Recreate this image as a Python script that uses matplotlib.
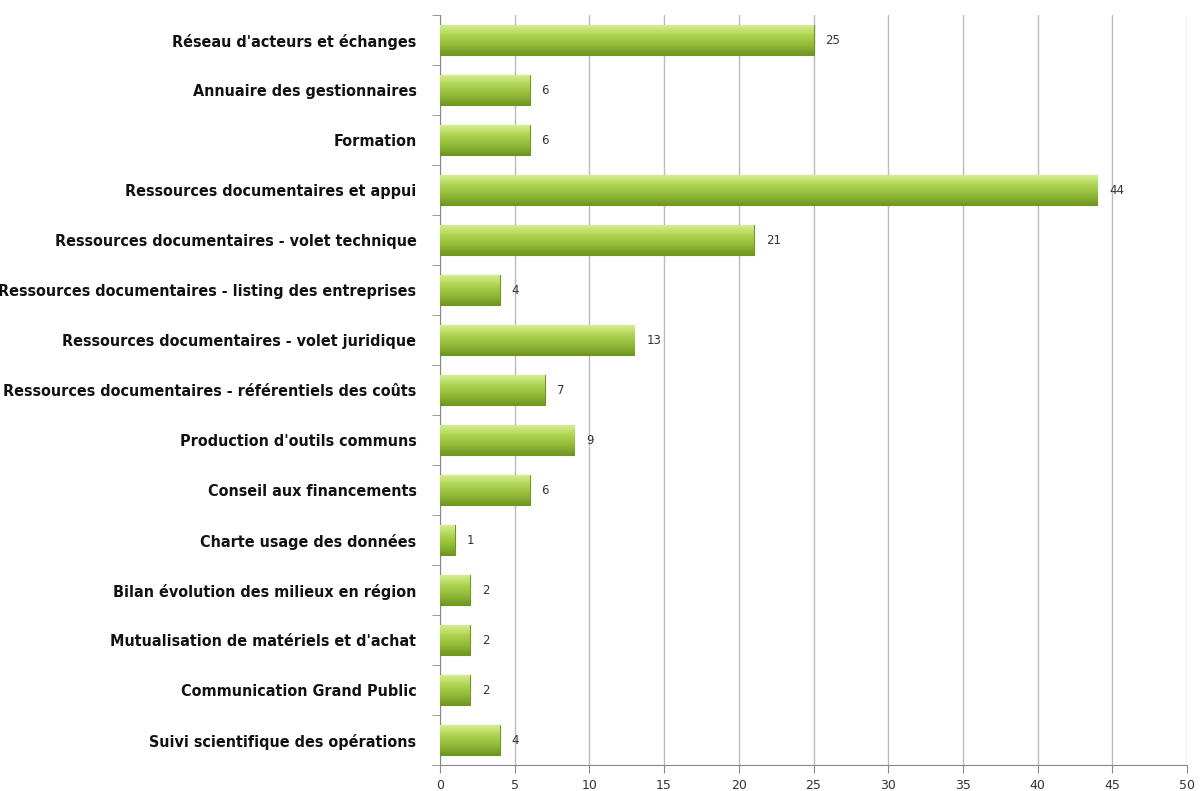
import numpy as np
import matplotlib.pyplot as plt
from matplotlib import font_manager
from matplotlib.colors import LinearSegmentedColormap

categories = [
    "Réseau d'acteurs et échanges",
    "Annuaire des gestionnaires",
    "Formation",
    "Ressources documentaires et appui",
    "Ressources documentaires - volet technique",
    "Ressources documentaires - listing des entreprises",
    "Ressources documentaires - volet juridique",
    "Ressources documentaires - référentiels des coûts",
    "Production d'outils communs",
    "Conseil aux financements",
    "Charte usage des données",
    "Bilan évolution des milieux en région",
    "Mutualisation de matériels et d'achat",
    "Communication Grand Public",
    "Suivi scientifique des opérations",
]
values = [25, 6, 6, 44, 21, 4, 13, 7, 9, 6, 1, 2, 2, 2, 4]
xticks = [0, 5, 10, 15, 20, 25, 30, 35, 40, 45, 50]

# look for a narrow / condensed face, the original uses a condensed sans
narrow = None
for f in font_manager.fontManager.ttflist:
    n = f.name.lower()
    if "narrow" in n or "condensed" in n:
        narrow = font_manager.FontProperties(fname=f.fname)
        break
    if f.name == "DejaVu Sans" and f.stretch == "condensed" and f.style == "normal" and f.weight in ("bold", 700):
        narrow = font_manager.FontProperties(fname=f.fname)
        break

fig = plt.figure(figsize=(12.01, 7.91), dpi=100)
ax = fig.add_axes([440 / 1201, 26 / 791, 747 / 1201, 750 / 791])

pos = np.arange(len(categories))
bars = ax.barh(pos, values, height=0.6, color="#9cc43f", edgecolor="#6f9420", linewidth=0.8, zorder=3)

# vertical gradient inside each bar, light on top
grad_cmap = LinearSegmentedColormap.from_list("g", ["#d6ee92", "#add350", "#93bb37", "#6f9722"])
grad = np.linspace(0, 1, 64).reshape(-1, 1)
for b in bars:
    x0, y0 = b.get_x(), b.get_y()
    w, h = b.get_width(), b.get_height()
    im = ax.imshow(grad, cmap=grad_cmap, aspect="auto", extent=[x0, x0 + w, y0 + h, y0],
                   origin="upper", zorder=3.5, interpolation="bicubic")
    im.set_clip_path(b)

for p, v in zip(pos, values):
    ax.text(v + 0.8, p, str(v), va="center", ha="left", fontsize=8.5, color="#333333", zorder=5)

ax.set_xlim(0, 50)
ax.set_ylim(len(categories) - 0.5, -0.5)
ax.set_xticks(xticks)
ax.set_xticklabels([str(t) for t in xticks], fontsize=9, color="#333333")
ax.set_yticks(pos)
if narrow is not None:
    ax.set_yticklabels(categories, fontproperties=narrow, fontsize=11.5, color="#111111")
else:
    ax.set_yticklabels(categories, fontsize=10, color="#111111")
ax.tick_params(axis="y", length=0, pad=17)
ax.set_yticks(np.arange(-0.5, len(categories), 1), minor=True)
ax.tick_params(axis="y", which="minor", length=6, color="#888888")
ax.tick_params(axis="x", length=6, color="#888888", pad=4)

ax.grid(axis="x", color="#bbbbbb", linewidth=1, zorder=0)
ax.set_axisbelow(True)
for s in ["top", "right"]:
    ax.spines[s].set_visible(False)
ax.spines["left"].set_color("#888888")
ax.spines["bottom"].set_color("#888888")

fig.savefig("out.png", dpi=100)
